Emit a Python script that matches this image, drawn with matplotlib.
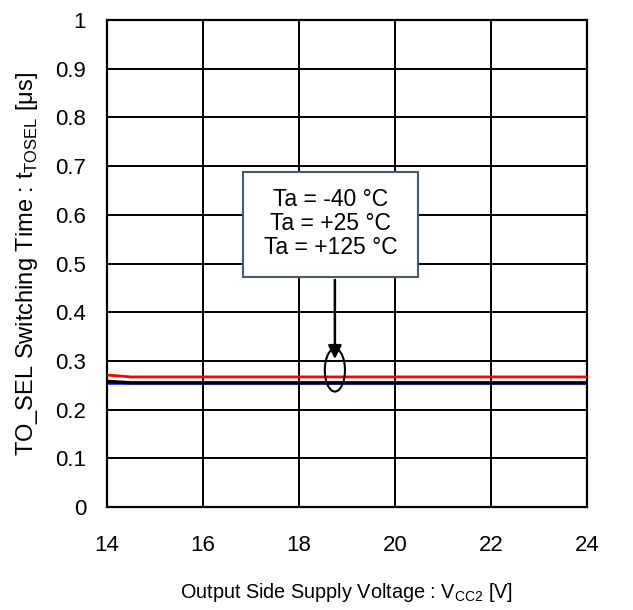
import matplotlib.pyplot as plt
from matplotlib.patches import Ellipse, Rectangle

plt.rcParams['font.family'] = ['Liberation Sans', 'DejaVu Sans']
plt.rcParams['mathtext.fontset'] = 'custom'
plt.rcParams['mathtext.rm'] = 'Liberation Sans'

# supply voltage [V]
vcc2 = [14, 14.5, 15, 16, 17, 18, 19, 20, 21, 22, 23, 24]
# switching time [us] per temperature
t_m40 = [0.255, 0.255, 0.255, 0.255, 0.255, 0.255, 0.255, 0.255, 0.255, 0.255, 0.255, 0.255]
t_p25 = [0.258, 0.255, 0.255, 0.255, 0.255, 0.255, 0.255, 0.255, 0.255, 0.255, 0.255, 0.255]
t_p125 = [0.271, 0.267, 0.267, 0.267, 0.267, 0.267, 0.267, 0.267, 0.267, 0.267, 0.267, 0.267]

xticks = [14, 16, 18, 20, 22, 24]
yticks = [0, 0.1, 0.2, 0.3, 0.4, 0.5, 0.6, 0.7, 0.8, 0.9, 1]
ytick_labels = ['0', '0.1', '0.2', '0.3', '0.4', '0.5', '0.6', '0.7', '0.8', '0.9', '1']
legend_txt = 'Ta = -40 °C\nTa = +25 °C\nTa = +125 °C'

fig = plt.figure(figsize=(6.33, 6.1), dpi=100)
ax = fig.add_axes([0.169, 0.169, 0.758, 0.798])

ax.plot(vcc2, t_m40, color='#0000ff', lw=1.8, zorder=2)
ax.plot(vcc2, t_p125, color='#ff0000', lw=2, zorder=3)
ax.plot(vcc2, t_p25, color='black', lw=2.4, zorder=4)

ax.set_xlim(14, 24)
ax.set_ylim(0, 1)
ax.set_xticks(xticks)
ax.set_yticks(yticks)
ax.set_yticklabels(ytick_labels)
ax.tick_params(length=0, labelsize=16)
ax.tick_params(axis='x', pad=20)
ax.tick_params(axis='y', pad=15)
ax.grid(True, color='black', lw=1.4)
ax.set_axisbelow(True)
for s in ax.spines.values():
    s.set_linewidth(1.6)

ax.set_xlabel(r'Output Side Supply Voltage : V$_{\mathregular{CC2}}$ [V]', fontsize=14.3, labelpad=18)
ax.set_ylabel(r'TO_SEL Switching Time : t$_{\mathregular{TOSEL}}$ [μs]', fontsize=17, labelpad=11)

# callout
ax.add_patch(Ellipse((18.75, 0.281), 0.42, 0.088, fill=False, ec='black', lw=1.5, zorder=5))
ax.annotate('', xy=(18.75, 0.298), xytext=(18.75, 0.472),
            arrowprops=dict(arrowstyle='-|>', color='black', lw=1.8, mutation_scale=20), zorder=6)
ax.add_patch(Rectangle((16.83, 0.472), 3.65, 0.216, fc='white', ec='#4a5a6e', lw=1.5, zorder=7))
ax.text(18.66, 0.582, legend_txt, ha='center', va='center', fontsize=16.5, linespacing=1.05, zorder=8)

fig.savefig('out.png', dpi=100)
